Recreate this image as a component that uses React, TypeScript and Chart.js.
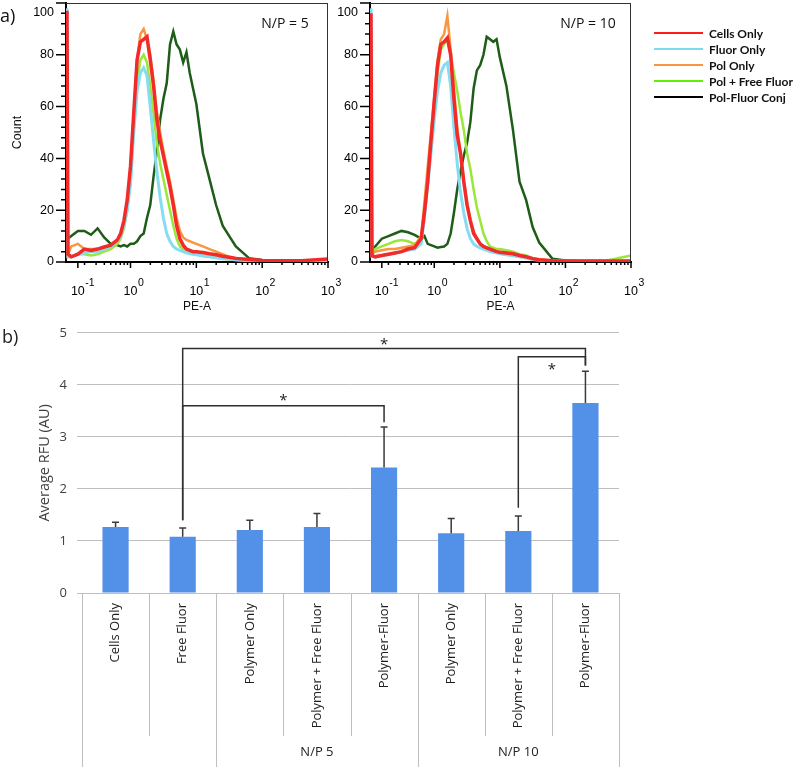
import React, { useEffect, useRef } from 'react';
import { Chart, registerables } from 'chart.js';

Chart.register(...registerables);

// ---------- Part a) flow cytometry histograms ----------
// PE-A positions, as decades (log10 of PE-A)
const peExp = [-0.965, -0.95, -0.9, -0.8, -0.7, -0.6, -0.5, -0.4, -0.3, -0.2, -0.15, -0.1, -0.05, 0, 0.05, 0.1, 0.15, 0.2, 0.25, 0.3, 0.35, 0.4, 0.45, 0.5, 0.55, 0.6, 0.65, 0.7, 0.75, 0.8, 0.85, 0.9, 0.95, 1.0, 1.1, 1.2, 1.3, 1.4, 1.5, 1.6, 1.8, 2.0, 2.3, 2.6, 3.0];

// N/P = 5 panel (Count)
const np5CellsOnly = [97, 3, 2, 3, 5, 4.5, 5, 5.8, 6.5, 8.5, 11, 16, 24, 37, 58, 78, 85, 86, 87, 78, 68, 55, 47, 41, 35, 29, 22, 14, 9, 6.5, 5, 4.5, 4, 4, 3.7, 3.2, 2.8, 2.2, 1.8, 1.4, 1, 0.6, 0.5, 0.5, 1.2];
const np5FluorOnly = [98, 2, 2, 3, 3.5, 4, 4, 5, 6, 8, 10, 14, 20, 30, 50, 66, 73, 75, 72, 60, 47, 35, 25, 17, 11, 8, 6, 5, 4.5, 4, 3.5, 3.2, 3, 2.8, 2.3, 2, 1.6, 1.3, 1.1, 0.9, 0.6, 0.4, 0.3, 0.3, 0.3];
const np5PolOnly = [90, 3, 6, 7, 5, 5, 5, 5.5, 6, 8, 11, 15, 22, 35, 57, 78, 88, 90, 86, 80, 70, 58, 50, 43, 37, 31, 24, 17, 12, 9.5, 8.5, 8, 7.5, 7, 6, 5, 4, 3, 2, 1.5, 1, 0.6, 0.4, 0.3, 0.5];
const np5PolFreeFluor = [83, 2, 2, 3, 3, 2.5, 3, 4, 5, 7, 9, 13, 20, 32, 52, 70, 78, 80, 77, 68, 57, 46, 38, 32, 26, 20, 14, 9, 6, 5, 4.5, 4, 3.5, 3, 2.5, 2, 1.6, 1.3, 1, 0.8, 0.5, 0.3, 0.3, 0.3, 0.3];
const np5PolFluorConj = [9, 9, 10, 12, 12, 10.5, 13, 9.5, 7, 6.5, 6, 6.5, 6, 7, 7, 8, 10, 11, 17, 22, 33, 43, 55, 63, 69, 84, 89, 84, 82, 77, 81, 73, 67, 61, 42, 32, 22, 14, 10, 6, 1.5, 0.8, 0.4, 0.3, 0.3];

// N/P = 10 panel (Count)
const np10CellsOnly = [96, 2.5, 2, 2.5, 3, 3.5, 4, 5, 5.5, 9, 19, 31, 47, 62, 76, 84, 85, 86.5, 80, 63, 49, 42, 31, 22, 16, 11, 9, 7, 6, 5.5, 5, 4.5, 4, 3.8, 3.5, 3.2, 2.5, 2, 1.3, 0.9, 0.5, 0.4, 0.4, 0.4, 0.4];
const np10FluorOnly = [98, 2, 2, 2.5, 3, 3.5, 4, 4.5, 5, 7, 17, 30, 42, 55, 66, 73, 76, 77, 68, 52, 38, 27, 19, 13, 9, 7, 6, 5.5, 5, 4.5, 4, 3.8, 3.5, 3.2, 2.8, 2.4, 2, 1.5, 1, 0.7, 0.4, 0.3, 0.3, 0.3, 0.3];
const np10PolOnly = [90, 3, 4, 4.5, 5, 5, 5.5, 6, 6.5, 10, 23, 37, 50, 64, 78, 86, 88, 95, 82, 67, 52, 42, 32, 23, 16, 12, 9, 7, 6, 5.5, 5, 4.5, 4.2, 4, 3.5, 3, 2.5, 2, 1.4, 1, 0.5, 0.4, 0.4, 0.4, 0.4];
const np10PolFreeFluor = [83, 4, 5, 6, 7, 8, 8.5, 8, 7, 8, 18, 30, 44, 58, 73, 82, 84, 86, 80, 73, 66, 58, 51, 42, 36, 28, 21, 16, 11, 8, 6, 5.5, 5, 5, 4.5, 4, 3, 2.5, 1.5, 1, 0.6, 0.4, 0.4, 0.4, 2.5];
const np10PolFluorConj = [5, 5, 6, 9, 10, 11, 12, 11.5, 10.5, 9, 10, 7, 6.5, 6, 5.5, 5.8, 6, 7, 11, 19, 28, 35, 41, 46, 54, 67, 74, 76, 80, 87, 86, 85, 86, 79, 68, 51, 31, 24, 13.5, 7.5, 1.3, 0.6, 0.3, 0.3, 0.3];

const legendLabels = ['Cells Only', 'Fluor Only', 'Pol Only', 'Pol + Free Fluor', 'Pol-Fluor Conj'];
const legendColors = ['#FF1C1C', '#7ED8EE', '#F7963C', '#5EF00A', '#000000'];
const seriesColors = ['#F22A2A', '#86DCF0', '#F8973E', '#9AE63A', '#1E5C18'];
const seriesWidths = [3.5, 3, 2.5, 2.5, 2.5];

const X_MIN_EXP = -0.98;
const X_MAX_EXP = 3;
const xMajorExp = [-0.8, 0, 1, 2, 3];
const xMajorExpLabels = ['-1', '0', '1', '2', '3'];
const yMajorTicks = [0, 20, 40, 60, 80, 100];
const Y_MINOR_STEP = 4;

// ---------- Part b) bar chart ----------
const barLabels = ['Cells Only', 'Free Fluor', 'Polymer Only', 'Polymer + Free Fluor', 'Polymer-Fluor', 'Polymer Only', 'Polymer + Free Fluor', 'Polymer-Fluor'];
const barMeans = [1.27, 1.08, 1.21, 1.27, 2.41, 1.15, 1.19, 3.65];
const barErr = [0.09, 0.17, 0.19, 0.26, 0.78, 0.28, 0.29, 0.61];
const groupLabels = ['', 'N/P 5', 'N/P 10'];
const groupStart = [0, 2, 5];
const groupEnd = [2, 5, 8];
// significance brackets (category indices and RFU levels)
const bracketFrom = [1, 1, 6];
const bracketTo = [7, 4, 7];
const bracketLevel = [4.7, 3.6, 4.54];
const bracketFromEnd = [1.4, 1.4, 1.64];
const bracketToEnd = [4.37, 3.28, 4.37];
const starX = [4, 2.5, 6.5];
const starY = [4.83, 3.76, 4.35];

const AXIS_FONT = '"Liberation Sans", Arial, sans-serif';
const OFFICE_FONT = '"Open Sans", "Noto Sans", sans-serif';

const toPoints = (vals: number[]) => peExp.map((e, i) => ({ x: Math.pow(10, e), y: vals[i] }));

const histDeco = {
  id: 'histDeco',
  afterDraw(chart: any, _args: any, opts: any) {
    const { ctx, chartArea, scales } = chart;
    const { left, right, top, bottom } = chartArea;
    const x = scales.x;
    const y = scales.y;
    ctx.save();
    // frame (top and right)
    ctx.strokeStyle = '#333';
    ctx.lineWidth = 1;
    ctx.beginPath();
    ctx.moveTo(left, top + 0.5);
    ctx.lineTo(right, top + 0.5);
    ctx.moveTo(right - 0.5, top);
    ctx.lineTo(right - 0.5, bottom);
    ctx.stroke();

    // y ticks
    ctx.strokeStyle = '#000';
    ctx.lineWidth = 1.5;
    ctx.beginPath();
    for (let v = 0; v <= 100; v += Y_MINOR_STEP) {
      const py = y.getPixelForValue(v);
      const len = v % 20 === 0 ? 10 : 5;
      ctx.moveTo(left - len, py);
      ctx.lineTo(left, py);
    }
    // x ticks
    xMajorExp.forEach((e) => {
      const px = x.getPixelForValue(Math.pow(10, e));
      ctx.moveTo(px, bottom);
      ctx.lineTo(px, bottom + 6);
    });
    for (let d = -1; d < X_MAX_EXP; d++) {
      for (let k = 2; k <= 9; k++) {
        const e = d + Math.log10(k);
        if (e <= X_MIN_EXP) continue;
        const px = x.getPixelForValue(Math.pow(10, e));
        ctx.moveTo(px, bottom);
        ctx.lineTo(px, bottom + 3);
      }
    }
    ctx.stroke();

    // y labels
    ctx.fillStyle = '#000';
    ctx.font = '12.5px ' + AXIS_FONT;
    ctx.textAlign = 'right';
    ctx.textBaseline = 'middle';
    yMajorTicks.forEach((v) => {
      const py = y.getPixelForValue(v);
      ctx.fillText(String(v), left - 12, Math.max(py, top + 10));
    });
    // x labels 10^n
    xMajorExp.forEach((e, i) => {
      const px = x.getPixelForValue(Math.pow(10, e));
      ctx.font = '12.5px ' + AXIS_FONT;
      ctx.textAlign = 'center';
      const w = ctx.measureText('10').width;
      ctx.fillText('10', px, bottom + 30);
      ctx.font = '10.5px ' + AXIS_FONT;
      ctx.textAlign = 'left';
      ctx.fillText(xMajorExpLabels[i], px + w / 2 + 0.5, bottom + 21);
    });

    // N/P label
    ctx.font = '14px ' + OFFICE_FONT;
    ctx.textAlign = 'center';
    ctx.fillStyle = '#111';
    ctx.fillText(opts.npLabel, right - 43, top + 21);

    if (opts.showA) {
      ctx.font = '18px ' + OFFICE_FONT;
      ctx.textAlign = 'left';
      ctx.fillText('a)', 0, 17);
    }

    if (opts.showLegend) {
      const lx = right + 23;
      legendLabels.forEach((lab, i) => {
        const ly = 33 + 16 * i;
        ctx.strokeStyle = legendColors[i];
        ctx.lineWidth = 2;
        ctx.beginPath();
        ctx.moveTo(lx, ly);
        ctx.lineTo(lx + 49, ly);
        ctx.stroke();
        ctx.fillStyle = '#111';
        ctx.font = 'bold 12px Lato, ' + OFFICE_FONT;
        ctx.textAlign = 'left';
        ctx.fillText(lab, lx + 55, ly + 1);
      });
    }
    ctx.restore();
  },
};

function histConfig(series: number[][], p: any): any {
  return {
    type: 'line',
    data: {
      datasets: series.map((vals, i) => ({
        label: legendLabels[i],
        data: toPoints(vals),
        borderColor: seriesColors[i],
        backgroundColor: seriesColors[i],
        borderWidth: seriesWidths[i],
        pointRadius: 0,
        tension: 0,
        fill: false,
      })),
    },
    options: {
      responsive: false,
      animation: false,
      events: [],
      layout: { padding: { top: 3, left: 0, right: p.padRight, bottom: 0 } },
      plugins: { legend: { display: false }, tooltip: { enabled: false }, histDeco: p },
      scales: {
        x: {
          type: 'logarithmic',
          min: Math.pow(10, X_MIN_EXP),
          max: Math.pow(10, X_MAX_EXP),
          ticks: { display: false },
          grid: { display: false, drawTicks: false },
          border: { display: true, color: '#000', width: 2 },
          title: { display: true, text: 'PE-A', color: '#111', font: { family: AXIS_FONT, size: 12 }, padding: { top: 0, bottom: 1 } },
          afterFit: (s: any) => { s.height = 53; },
        },
        y: {
          type: 'linear',
          min: 0,
          max: 100,
          ticks: { display: false },
          grid: { display: false, drawTicks: false },
          border: { display: true, color: '#000', width: 2 },
          title: { display: p.showTitleY, text: 'Count', color: '#111', font: { family: AXIS_FONT, size: 12.5 }, padding: { top: 10, bottom: 0 } },
          afterFit: (s: any) => { s.width = p.yWidth; },
        },
      },
    },
    plugins: [histDeco],
  };
}

const barDeco = {
  id: 'barDeco',
  afterDatasetsDraw(chart: any) {
    const { ctx, chartArea, scales } = chart;
    const { top, bottom } = chartArea;
    const x = scales.x;
    const y = scales.y;
    ctx.save();
    ctx.strokeStyle = '#3A3A3A';
    ctx.lineWidth = 1.5;
    // error bars
    barMeans.forEach((m, i) => {
      const px = x.getPixelForValue(i);
      const y0 = y.getPixelForValue(m);
      const y1 = y.getPixelForValue(m + barErr[i]);
      ctx.beginPath();
      ctx.moveTo(px, y0);
      ctx.lineTo(px, y1);
      ctx.moveTo(px - 3.5, y1);
      ctx.lineTo(px + 3.5, y1);
      ctx.stroke();
    });
    // brackets
    ctx.strokeStyle = '#2E2E2E';
    bracketFrom.forEach((f, i) => {
      const x1 = x.getPixelForValue(f);
      const x2 = x.getPixelForValue(bracketTo[i]);
      const yl = y.getPixelForValue(bracketLevel[i]);
      ctx.beginPath();
      ctx.moveTo(x1, y.getPixelForValue(bracketFromEnd[i]));
      ctx.lineTo(x1, yl);
      ctx.lineTo(x2, yl);
      ctx.lineTo(x2, y.getPixelForValue(bracketToEnd[i]));
      ctx.stroke();
    });
    // stars
    ctx.fillStyle = '#222';
    ctx.font = '15px ' + OFFICE_FONT;
    ctx.textAlign = 'center';
    ctx.textBaseline = 'middle';
    starX.forEach((sx, i) => {
      ctx.fillText('*', x.getPixelForValue(sx), y.getPixelForValue(starY[i]) + 3);
    });

    // multi-level category separators
    ctx.strokeStyle = '#BFBFBF';
    ctx.lineWidth = 1;
    ctx.beginPath();
    for (let b = 0; b <= barLabels.length; b++) {
      const px = Math.round(x.getPixelForValue(b - 0.5)) + 0.5;
      const isGroup = groupStart.includes(b) || groupEnd.includes(b);
      ctx.moveTo(px, bottom);
      ctx.lineTo(px, isGroup ? chart.height : bottom + 143);
    }
    ctx.stroke();
    ctx.fillStyle = '#222';
    ctx.font = '13px ' + OFFICE_FONT;
    groupLabels.forEach((g, i) => {
      if (!g) return;
      const cx = (x.getPixelForValue(groupStart[i] - 0.5) + x.getPixelForValue(groupEnd[i] - 0.5)) / 2;
      ctx.fillText(g, cx, bottom + 159);
    });
    // panel letter
    ctx.font = '18px ' + OFFICE_FONT;
    ctx.textAlign = 'left';
    ctx.fillText('b)', 2, top + 5);
    ctx.restore();
  },
};

function barConfig(): any {
  return {
    type: 'bar',
    data: {
      labels: barLabels,
      datasets: [{
        data: barMeans,
        backgroundColor: '#5390E8',
        borderWidth: 0,
        barPercentage: 0.39,
        categoryPercentage: 1,
      }],
    },
    options: {
      responsive: false,
      animation: false,
      events: [],
      layout: { padding: { top: 17, left: 0, right: 179, bottom: 0 } },
      plugins: { legend: { display: false }, tooltip: { enabled: false } },
      scales: {
        x: {
          ticks: { minRotation: 90, maxRotation: 90, autoSkip: false, padding: 10, color: '#1E1E1E', font: { family: OFFICE_FONT, size: 13 } },
          grid: { display: false, drawTicks: false },
          border: { display: false },
          afterFit: (s: any) => { s.height = 174; },
        },
        y: {
          min: 0,
          max: 5,
          ticks: { stepSize: 1, padding: 10, color: '#404040', font: { family: OFFICE_FONT, size: 13 } },
          grid: { color: '#BFBFBF', lineWidth: 1, tickLength: 5, drawTicks: true },
          border: { display: false },
          title: { display: true, text: 'Average RFU (AU)', color: '#404040', font: { family: OFFICE_FONT, size: 14.5 }, padding: { top: 36, bottom: 0 } },
          afterFit: (s: any) => { s.width = 82; },
        },
      },
    },
    plugins: [barDeco],
  };
}

export default function App() {
  const ref1 = useRef<HTMLCanvasElement>(null);
  const ref2 = useRef<HTMLCanvasElement>(null);
  const ref3 = useRef<HTMLCanvasElement>(null);

  useEffect(() => {
    const c1 = new Chart(ref1.current as HTMLCanvasElement, histConfig(
      [np5CellsOnly, np5FluorOnly, np5PolOnly, np5PolFreeFluor, np5PolFluorConj],
      { npLabel: 'N/P = 5', yWidth: 66, padRight: 17, showTitleY: true, showA: true, showLegend: false },
    ));
    const c2 = new Chart(ref2.current as HTMLCanvasElement, histConfig(
      [np10CellsOnly, np10FluorOnly, np10PolOnly, np10PolFreeFluor, np10PolFluorConj],
      { npLabel: 'N/P = 10', yWidth: 35, padRight: 167, showTitleY: false, showA: false, showLegend: true },
    ));
    const c3 = new Chart(ref3.current as HTMLCanvasElement, barConfig());
    return () => { c1.destroy(); c2.destroy(); c3.destroy(); };
  }, []);

  return (
    <div style={{ position: 'absolute', left: 0, top: 0, width: 798, height: 767, background: '#fff', overflow: 'hidden' }}>
      <canvas ref={ref1} width={345} height={315} style={{ position: 'absolute', left: 0, top: 0, width: 345, height: 315 }} />
      <canvas ref={ref2} width={463} height={315} style={{ position: 'absolute', left: 335, top: 0, width: 463, height: 315 }} />
      <canvas ref={ref3} width={798} height={452} style={{ position: 'absolute', left: 0, top: 315, width: 798, height: 452 }} />
    </div>
  );
}
